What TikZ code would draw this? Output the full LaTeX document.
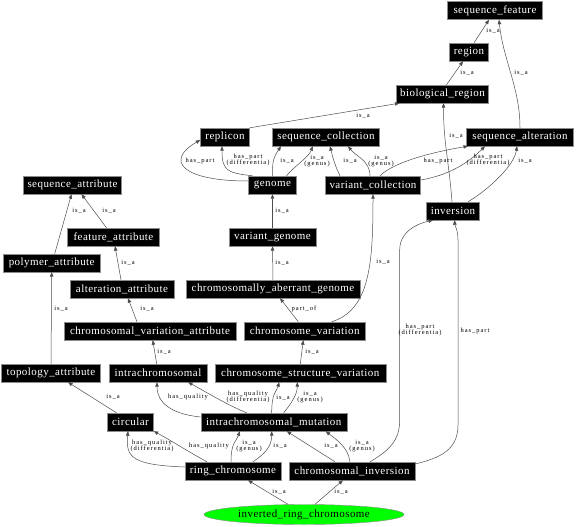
\documentclass[tikz,border=0pt]{standalone}
\usepackage{fontspec}
\setmainfont{Liberation Serif}
\newfontfamily\nodefont[LetterSpace=4]{Liberation Serif}
\newfontfamily\lblfont[LetterSpace=15]{Liberation Serif}
\usetikzlibrary{arrows.meta,shapes.geometric}
\begin{document}
\begin{tikzpicture}[x=1pt,y=-1pt,
  nd/.style={rectangle, fill=black, draw=black!45, text=white, font=\nodefont\fontsize{11}{12}\selectfont, minimum height=18pt, inner xsep=1pt, inner ysep=0pt},
  lb/.style={font=\lblfont\fontsize{6.5}{6}\selectfont, align=center, inner sep=0pt, text=black},
  ed/.style={draw=black!70, line width=0.5pt, -{Triangle[length=4.5pt,width=3.5pt]}}]
\useasboundingbox (0,0) rectangle (576,527);
% nodes
\node[nd, minimum width=95pt] (sf) at (495,10.5) {sequence\_feature};
\node[nd, minimum width=39pt] (reg) at (469,52) {region};
\node[nd, minimum width=92pt] (bior) at (442.5,94) {biological\_region};
\node[nd, minimum width=49pt] (repl) at (225,137) {replicon};
\node[nd, minimum width=107pt] (seqc) at (326,137) {sequence\_collection};
\node[nd, minimum width=107pt] (seqa) at (520,137) {sequence\_alteration};
\node[nd, minimum width=98pt] (seqattr) at (72.5,185) {sequence\_attribute};
\node[nd, minimum width=48pt] (gen) at (272.5,185) {genome};
\node[nd, minimum width=95pt] (vc) at (373,185) {variant\_collection};
\node[nd, minimum width=53pt] (inv) at (453,211) {inversion};
\node[nd, minimum width=92pt] (fattr) at (113.5,237) {feature\_attribute};
\node[nd, minimum width=87pt] (vg) at (272.5,237) {variant\_genome};
\node[nd, minimum width=97pt] (pattr) at (51.7,263) {polymer\_attribute};
\node[nd, minimum width=104pt] (aattr) at (122,289) {alteration\_attribute};
\node[nd, minimum width=174pt] (cag) at (273,289) {chromosomally\_aberrant\_genome};
\node[nd, minimum width=172pt] (cva) at (150,331) {chromosomal\_variation\_attribute};
\node[nd, minimum width=121pt] (cv) at (304.7,331) {chromosome\_variation};
\node[nd, minimum width=99pt] (tattr) at (51,373) {topology\_attribute};
\node[nd, minimum width=98pt] (intra) at (158,373) {intrachromosomal};
\node[nd, minimum width=171pt] (csv) at (300.3,373) {chromosome\_structure\_variation};
\node[nd, minimum width=46pt] (circ) at (130.5,422) {circular};
\node[nd, minimum width=146pt] (imut) at (273.7,422) {intrachromosomal\_mutation};
\node[nd, minimum width=96pt] (ring) at (233,471) {ring\_chromosome};
\node[nd, minimum width=126pt] (cinv) at (352,471) {chromosomal\_inversion};
\node[ellipse, fill=green, draw=black!45, minimum width=200pt, minimum height=20pt, inner sep=0pt, font=\nodefont\fontsize{11}{12}\selectfont] (irc) at (304,514.5) {inverted\_ring\_chromosome};
% edges
\draw[ed] ([xshift=5pt]reg.north) -- ([xshift=-6pt]sf.south);
\draw[ed] ([xshift=4pt]bior.north) -- ([xshift=-6pt]reg.south);
\draw[ed] (seqa.north) .. controls +(0,-40) and +(4,40) .. ([xshift=4pt]sf.south);
\draw[ed] (repl.north east) -- ([xshift=-43pt]bior.south);
\draw[ed] ([xshift=-1pt]inv.north) .. controls +(-3,-40) and +(0,40) .. ([xshift=1pt]bior.south);
\draw[ed] ([yshift=4pt]gen.west) .. controls +(-68,0) and +(-35,20) .. ([yshift=-3pt]repl.west);
\draw[ed] ([xshift=-20pt]gen.north) .. controls +(-25,-3) and +(0,25) .. ([xshift=-3pt]repl.south);
\draw[ed] (gen.north) .. controls +(0,-15) and +(-8,12) .. ([xshift=-45pt]seqc.south);
\draw[ed] ([xshift=14pt]gen.north) .. controls +(8,-10) and +(-5,12) .. ([xshift=-13pt]seqc.south);
\draw[ed] ([xshift=-33pt]vc.north) .. controls +(-5,-10) and +(3,12) .. ([xshift=4pt]seqc.south);
\draw[ed] ([xshift=-3pt]vc.north) .. controls +(0,-15) and +(8,10) .. ([xshift=22pt]seqc.south);
\draw[ed] ([xshift=7pt]vc.north) .. controls +(15,-15) and +(-30,5) .. ([xshift=-52pt]seqa.south);
\draw[ed] ([yshift=5pt]vc.east) .. controls +(30,-5) and +(-15,15) .. ([xshift=-35pt]seqa.south);
\draw[ed] ([xshift=15pt]inv.north) .. controls +(20,-12) and +(-3,20) .. ([xshift=-3pt]seqa.south);
\draw[ed] ([xshift=-7pt]fattr.north) -- ([xshift=9pt]seqattr.south);
\draw[ed] ([xshift=3pt]pattr.north) -- ([xshift=-1pt]seqattr.south);
\draw[ed] (vg.north) -- (gen.south);
\draw[ed] ([xshift=-1pt]aattr.north) -- ([xshift=1.5pt]fattr.south);
\draw[ed] (cag.north) -- (vg.south);
\draw[ed] (tattr.north) -- (pattr.south);
\draw[ed] ([xshift=-13pt]cva.north) -- ([xshift=6pt]aattr.south);
\draw[ed] ([xshift=-6.4pt]cv.north) -- ([xshift=7pt]cag.south);
\draw[ed] ([xshift=27pt]cv.north) .. controls +(38,-12) and +(0,70) .. (vc.south);
\draw[ed] ([xshift=-1.3pt]intra.north) -- ([xshift=2.7pt]cva.south);
\draw[ed] (csv.north) -- ([xshift=-1.4pt]cv.south);
\draw[ed] ([xshift=-14pt]circ.north) -- ([xshift=17pt]tattr.south);
\draw[ed] ([yshift=5pt]imut.west) .. controls +(-30,-3) and +(0,20) .. ([xshift=-1pt]intra.south);
\draw[ed] ([xshift=-27pt]imut.north) .. controls +(-20,-8) and +(15,8) .. ([xshift=30pt]intra.south);
\draw[ed] ([xshift=-2pt]imut.north) .. controls +(0,-20) and +(-3,10) .. ([xshift=-21pt]csv.south);
\draw[ed] ([xshift=10pt]imut.north) .. controls +(8,-10) and +(0,12) .. ([xshift=-3pt]csv.south);
\draw[ed] ([yshift=4pt]ring.west) .. controls +(-55,-2) and +(-2,25) .. ([xshift=-2.5pt]circ.south);
\draw[ed] ([xshift=-26pt]ring.north) .. controls +(-15,-8) and +(15,8) .. (circ.south east);
\draw[ed] ([xshift=-2pt]ring.north) .. controls +(0,-20) and +(-3,10) .. ([xshift=-34pt]imut.south);
\draw[ed] ([xshift=20pt]ring.north) .. controls +(12,-8) and +(0,15) .. ([xshift=-2pt]imut.south);
\draw[ed] ([xshift=-17pt]cinv.north) -- ([xshift=13pt]imut.south);
\draw[ed] ([xshift=-2pt]cinv.north) .. controls +(-2,-15) and +(10,8) .. ([xshift=52pt]imut.south);
\draw[ed] ([xshift=18pt]cinv.north) .. controls (390,450) and (399.7,440) .. (399.7,420) -- (399.7,250) .. controls (399.7,232) and (416,224) .. ([xshift=-20pt]inv.south);
\draw[ed] ([yshift=7pt]cinv.east) .. controls (440,458) and (458,450) .. (458,425) -- (458,240) .. controls (458,230) and (455,226) .. ([xshift=1.5pt]inv.south);
\draw[ed] ([xshift=-16pt]irc.north) -- ([xshift=15pt]ring.south);
\draw[ed] ([xshift=11pt]irc.north) -- ([xshift=-9pt]cinv.south);
% labels
\node[lb] (l1) at (493,31) {is\_a};
\node[lb] (l2) at (467,73) {is\_a};
\node[lb] (l3) at (521,73) {is\_a};
\node[lb] (l4) at (363,116) {is\_a};
\node[lb] (l5) at (456,136) {is\_a};
\node[lb] (l6) at (200,161) {has\_part};
\node[lb] (l7) at (248,160) {has\_part\\(differentia)};
\node[lb] (l8) at (287,161) {is\_a};
\node[lb] (l9) at (317,161) {is\_a\\(genus)};
\node[lb] (l10) at (350,161) {is\_a};
\node[lb] (l11) at (381,161) {is\_a\\(genus)};
\node[lb] (l12) at (438,161) {has\_part};
\node[lb] (l13) at (488,160) {has\_part\\(differentia)};
\node[lb] (l14) at (525,161) {is\_a};
\node[lb] (l15) at (109,211) {is\_a};
\node[lb] (l16) at (79,211) {is\_a};
\node[lb] (l17) at (282,211) {is\_a};
\node[lb] (l18) at (128,263) {is\_a};
\node[lb] (l19) at (282,263) {is\_a};
\node[lb] (l20) at (61,309) {is\_a};
\node[lb] (l21) at (147,309) {is\_a};
\node[lb] (l22) at (304,309) {part\_of};
\node[lb] (l23) at (383,262) {is\_a};
\node[lb] (l24) at (164,352) {is\_a};
\node[lb] (l25) at (312,352) {is\_a};
\node[lb] (l26) at (113,397) {is\_a};
\node[lb] (l27) at (188,397) {has\_quality};
\node[lb] (l28) at (248,397) {has\_quality\\(differentia)};
\node[lb] (l29) at (283,398) {is\_a};
\node[lb] (l30) at (310,397) {is\_a\\(genus)};
\node[lb] (l31) at (152,446) {has\_quality\\(differentia)};
\node[lb] (l32) at (209,446) {has\_quality};
\node[lb] (l33) at (249,446) {is\_a\\(genus)};
\node[lb] (l34) at (280,446) {is\_a};
\node[lb] (l35) at (331,446) {is\_a};
\node[lb] (l36) at (362,446) {is\_a\\(genus)};
\node[lb] (l37) at (420,330) {has\_part\\(differentia)};
\node[lb] (l38) at (475,331) {has\_part};
\node[lb] (l39) at (279,492) {is\_a};
\node[lb] (l40) at (341,492) {is\_a};
\end{tikzpicture}
\end{document}
